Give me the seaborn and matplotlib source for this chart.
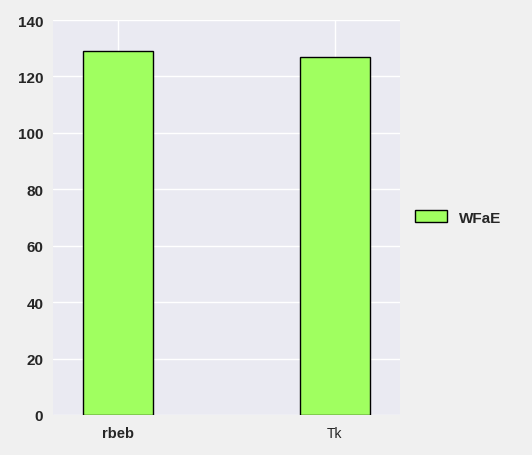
import pandas as pd
import matplotlib
matplotlib.use("Agg")
import matplotlib.pyplot as plt
import seaborn as sns

# data
categories = ["rbeb", "Tk"]
values = [129, 127]
series_name = "WFaE"

df = pd.DataFrame({"cat": categories, "val": values, "series": [series_name] * len(categories)})

sns.set_theme(style="darkgrid")
plt.rcParams["font.family"] = ["Liberation Sans", "DejaVu Sans"]

fig = plt.figure(figsize=(5.32, 4.56), dpi=100, facecolor="#f0f0f0")
ax = fig.add_axes([53 / 532, 40 / 456, 347 / 532, 395 / 456])
ax.set_facecolor("#eaeaf2")

sns.barplot(data=df, x="cat", y="val", hue="series", palette=["#a0ff60"],
            width=0.32, edgecolor="black", linewidth=1, saturation=1, ax=ax)

ax.set_xlim(-0.3, 1.3)
ax.set_ylim(0, 140)
ax.set_xlabel("")
ax.set_ylabel("")
ax.xaxis.grid(True, color="white", linewidth=1)
ax.yaxis.grid(True, color="white", linewidth=1)
ax.set_axisbelow(True)
ax.tick_params(axis="both", colors="#262626", length=0)
ax.tick_params(axis="y", labelsize=11, pad=7)
ax.tick_params(axis="x", labelsize=10.5, pad=8)
for lbl in ax.get_yticklabels():
    lbl.set_fontweight("bold")
xl = ax.get_xticklabels()
xl[0].set_fontweight("bold")
xl[1].set_fontsize(10)
for s in ax.spines.values():
    s.set_visible(False)

leg = ax.legend(loc="center left", bbox_to_anchor=(1.004, 0.5), frameon=False,
                prop={"weight": "bold", "size": 11}, handlelength=2.1,
                handleheight=0.78, handletextpad=0.8)

fig.savefig("out.png", dpi=100, facecolor=fig.get_facecolor())
